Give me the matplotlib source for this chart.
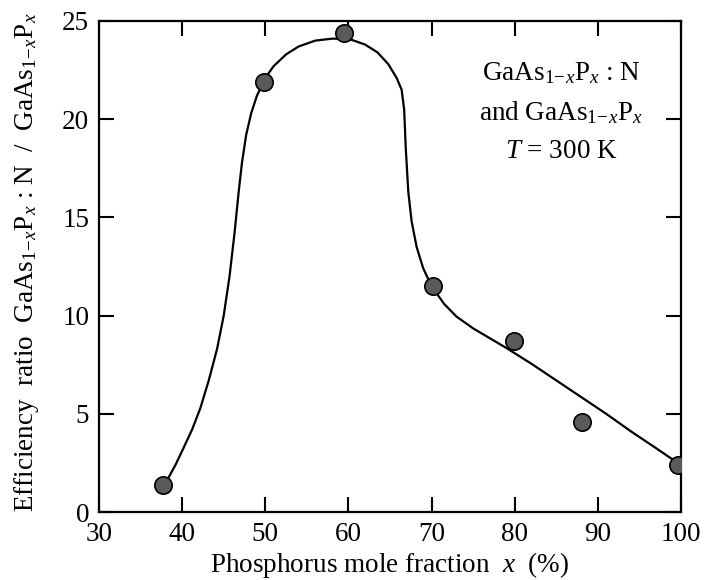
import matplotlib
matplotlib.use("Agg")
import matplotlib.pyplot as plt

plt.rcParams['font.family'] = ['Liberation Serif', 'DejaVu Serif']
plt.rcParams['mathtext.fontset'] = 'custom'
plt.rcParams['mathtext.rm'] = 'Liberation Serif'
plt.rcParams['mathtext.it'] = 'Liberation Serif:italic'
plt.rcParams['mathtext.bf'] = 'Liberation Serif:bold'

# Measured data points
x_pts = [37.7, 49.9, 59.5, 70.2, 79.9, 88.1, 99.6]
y_pts = [1.4, 21.9, 24.4, 11.5, 8.7, 4.6, 2.4]

# Hand-drawn guide curve
curve_x = [38.3, 39.2, 40.1, 41.2, 42.2, 43.2, 44.2, 45.0, 45.7, 46.3, 46.8, 47.2,
           47.7, 48.3, 49.0, 50.0, 51.0, 52.5, 54.0, 56.0, 58.0, 60.0, 62.0, 63.5,
           64.8, 65.8, 66.4, 66.7, 66.9, 67.2, 67.6, 68.2, 69.0, 70.0, 71.5, 73.0,
           75.0, 77.0, 79.0, 82.0, 85.0, 88.0, 91.0, 94.0, 97.0, 99.6]
curve_y = [1.7, 2.4, 3.2, 4.2, 5.3, 6.7, 8.3, 10.0, 12.0, 14.2, 16.3, 17.8,
           19.2, 20.3, 21.2, 22.1, 22.7, 23.3, 23.7, 24.0, 24.1, 24.1, 23.8, 23.4,
           22.8, 22.1, 21.5, 20.5, 18.5, 16.3, 14.8, 13.5, 12.4, 11.5, 10.6, 9.95,
           9.35, 8.85, 8.35, 7.55, 6.7, 5.85, 5.0, 4.1, 3.25, 2.5]

xticks = [30, 40, 50, 60, 70, 80, 90, 100]
yticks = [0, 5, 10, 15, 20, 25]

FS = 19.5

fig = plt.figure(figsize=(7.04, 5.8), dpi=100)
ax = fig.add_axes([99/704, 1 - 512/580, (681 - 99)/704, (512 - 21)/580])

ax.plot(curve_x, curve_y, color='black', lw=1.6, solid_joinstyle='round', zorder=2)
ax.plot(x_pts, y_pts, 'o', ms=12.5, mfc='#5a5a5a', mec='black', mew=1.2, zorder=3)

ax.set_xlim(30, 100)
ax.set_ylim(0, 25)
ax.set_xticks(xticks)
ax.set_yticks(yticks)
ax.tick_params(direction='in', length=11, width=1.5, labelsize=FS,
               top=True, right=True, colors='black')
ax.tick_params(axis='x', pad=7)
ax.tick_params(axis='y', pad=7)
for s in ax.spines.values():
    s.set_linewidth(1.6)

ax.set_xlabel(r'Phosphorus mole fraction  $\mathit{x}$  (%)', fontsize=FS, labelpad=2)
fig.text(27/704, 1 - 262/580,
         r'Efficiency  ratio  GaAs$_{1\!-\!\mathit{x}}$P$_{\mathit{x}}$ : N  /  GaAs$_{1\!-\!\mathit{x}}$P$_{\mathit{x}}$',
         rotation=90, ha='center', va='center', fontsize=FS)

tx = (561 - 99) / 582
ax.text(tx, (512 - 80) / 491, r'GaAs$_{1\!-\!\mathit{x}}$P$_{\mathit{x}}$ : N', transform=ax.transAxes,
        ha='center', va='baseline', fontsize=FS)
ax.text(tx, (512 - 120) / 491, r'and GaAs$_{1\!-\!\mathit{x}}$P$_{\mathit{x}}$', transform=ax.transAxes,
        ha='center', va='baseline', fontsize=FS)
ax.text(tx, (512 - 158) / 491, r'$\mathit{T}$ = 300 K', transform=ax.transAxes,
        ha='center', va='baseline', fontsize=FS)

fig.savefig('out.png', dpi=100)
